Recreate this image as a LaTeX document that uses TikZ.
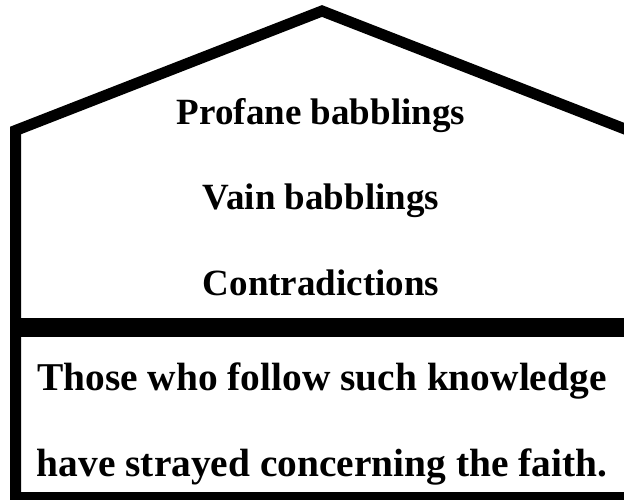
\documentclass[tikz,border=0pt]{standalone}
\usepackage{fontspec}
\setmainfont{Liberation Serif}
\usetikzlibrary{positioning}
\tikzset{
    wall/.style={line width=11pt, line join=miter}, % muri e tetto
    beam/.style={line width=19pt}, % trave di separazione
    phrase/.style={font=\fontsize{37}{40}\selectfont\bfseries, anchor=base, inner sep=0pt},
    bigphrase/.style={phrase, font=\fontsize{39.4}{42}\selectfont\bfseries},
}

\begin{document}
\begin{tikzpicture}[x=1pt,y=-1pt]
        % Cornice
        \useasboundingbox (0,0) rectangle (624,500);
        \clip (0,0) rectangle (624,500);

        % Casa (tetto e muri)
        \draw[wall] (15.5,497.5) -- (15.5,130.5) -- (322,11) -- (630,131) -- (630,497.5) -- cycle;

        % Trave tra i due piani
        \draw[beam] (15.5,327.5) -- (630,327.5);

        % Piano di sopra
        \node[phrase] (profane) at (321,125) {Profane babblings};
        \node[phrase] (vain) at (321,209) {Vain babblings};
        \node[phrase] (contra) at (321,295) {Contradictions};

        % Piano di sotto
        \node[bigphrase] (those) at (322,390) {Those who follow such knowledge};
        \node[bigphrase] (strayed) at (322,476) {have strayed concerning the faith.};
    \end{tikzpicture}
\end{document}
